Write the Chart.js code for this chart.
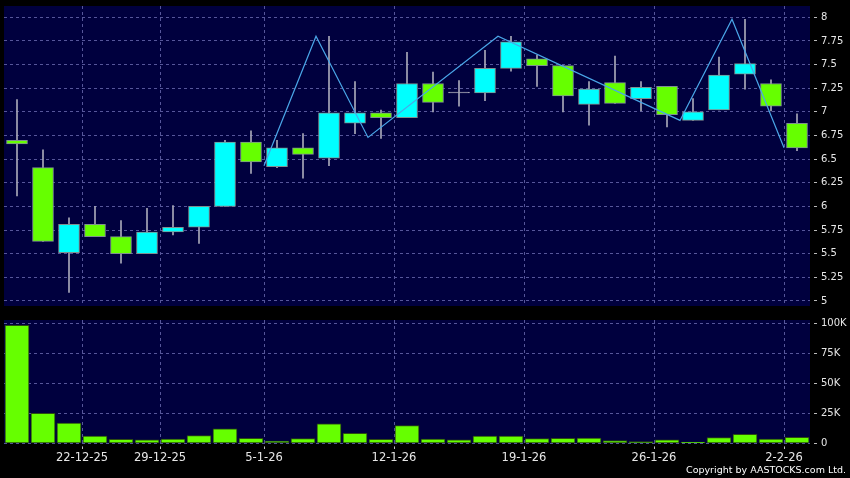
<!DOCTYPE html>
<html>
<head>
<meta charset="utf-8">
<script src="https://cdn.jsdelivr.net/npm/chart.js@4"></script>
<style>
  html, body { margin: 0; padding: 0; background: #000; }
  #wrap { position: relative; width: 850px; height: 478px; background: #000; overflow: hidden; }
  #priceBox { position: absolute; left: 0; top: 0; width: 850px; height: 310px; }
  #volBox { position: absolute; left: 0; top: 310px; width: 850px; height: 168px; }
  #copy { position: absolute; right: 4px; top: 464px; font: 9.5px "DejaVu Sans"; line-height: 11px; color: #fff; white-space: nowrap; }
</style>
</head>
<body>
<div id="wrap">
  <div id="priceBox"><canvas id="priceChart"></canvas></div>
  <div id="volBox"><canvas id="volChart"></canvas></div>
  <div id="copy">Copyright by AASTOCKS.com Ltd.</div>
</div>
<script>
// daily candles, 17-12-25 .. 2-2-26
const openP  = [6.70, 6.41, 5.51, 5.81, 5.68, 5.50, 5.73, 5.78, 6.00, 6.68, 6.42, 6.62, 6.51, 6.88, 6.99, 6.94, 7.30, 7.20, 7.20, 7.46, 7.56, 7.49, 7.08, 7.31, 7.14, 7.27, 6.91, 7.02, 7.40, 7.30, 6.88];
const closeP = [6.66, 5.63, 5.81, 5.68, 5.50, 5.73, 5.78, 6.00, 6.68, 6.47, 6.62, 6.55, 6.99, 6.99, 6.94, 7.30, 7.10, 7.20, 7.46, 7.74, 7.49, 7.17, 7.24, 7.09, 7.26, 6.97, 7.00, 7.39, 7.51, 7.06, 6.62];
const highP  = [7.13, 6.60, 5.88, 6.00, 5.85, 5.98, 6.01, 6.00, 6.70, 6.80, 6.70, 6.77, 7.80, 7.32, 7.02, 7.63, 7.42, 7.33, 7.65, 7.80, 7.60, 7.49, 7.32, 7.59, 7.32, 7.27, 7.14, 7.58, 7.98, 7.34, 6.98];
const lowP   = [6.11, 5.63, 5.09, 5.68, 5.40, 5.50, 5.70, 5.61, 6.00, 6.35, 6.41, 6.30, 6.43, 6.77, 6.72, 6.94, 7.00, 7.06, 7.12, 7.43, 7.27, 7.00, 6.86, 7.09, 7.01, 6.84, 6.91, 7.02, 7.24, 7.01, 6.59];
const volume = [98500, 25100, 16800, 6100, 3400, 2800, 3600, 6400, 12000, 4200, 1900, 3900, 16200, 8400, 3400, 14800, 3600, 3000, 6100, 6100, 3900, 4200, 4400, 2200, 1400, 2800, 1100, 4700, 7500, 3600, 5000];

// zigzag line
const zigX = [9.5, 11.5, 13.5, 18.5, 25.5, 27.5, 29.5];
const zigY = [6.43, 7.80, 6.73, 7.80, 6.91, 7.98, 6.62];

// week boundaries and labels
const weekPos = [2.5, 5.5, 9.5, 14.5, 19.5, 24.5, 29.5];
const weekLabels = ["22-12-25", "29-12-25", "5-1-26", "12-1-26", "19-1-26", "26-1-26", "2-2-26"];

const priceTicks = [5, 5.25, 5.5, 5.75, 6, 6.25, 6.5, 6.75, 7, 7.25, 7.5, 7.75, 8];
const priceTickLabels = ["5", "5.25", "5.5", "5.75", "6", "6.25", "6.5", "6.75", "7", "7.25", "7.5", "7.75", "8"];
const volTicks = [0, 25000, 50000, 75000, 100000];
const volTickLabels = ["0", "25K", "50K", "75K", "100K"];

const NAVY = "#00003e";
const GRID = "#56569a";
const TEXT = "#e6e6e6";
const UP = "#00ffff";
const DOWN = "#66ff00";

Chart.defaults.font.family = "'DejaVu Sans'";
Chart.defaults.color = TEXT;

const plotBg = {
  id: "plotBg",
  beforeDraw(chart) {
    const a = chart.chartArea;
    const ctx = chart.ctx;
    ctx.save();
    ctx.fillStyle = NAVY;
    ctx.fillRect(a.left, a.top, a.right - a.left, a.bottom - a.top);
    ctx.restore();
  }
};

function setTicks(values) {
  return function (scale) {
    scale.ticks = values.map(v => ({ value: v }));
  };
}

// fix axis box sizes so both panels line up with the reference
function fitX(h) {
  return function (scale) {
    scale.height = h;
    scale.paddingLeft = 0;
    scale.paddingRight = 0;
  };
}
function fitY(scale) {
  scale.width = 40;
  scale.paddingTop = 0;
  scale.paddingBottom = 0;
}

const candleColor = openP.map((o, i) => closeP[i] > o ? UP : (closeP[i] < o ? DOWN : "#a8a8b8"));
const bodyBorder = openP.map((o, i) => closeP[i] === o ? "#a8a8b8" : "#7f9090");

new Chart(document.getElementById("priceChart"), {
  type: "bar",
  data: {
    datasets: [
      {
        type: "line",
        data: zigX.map((x, i) => ({ x: x, y: zigY[i] })),
        borderColor: "#4aa6e8",
        borderWidth: 1.2,
        pointRadius: 0,
        order: 0
      },
      {
        data: openP.map((o, i) => ({ x: i, y: [o, closeP[i]] })),
        backgroundColor: candleColor,
        borderColor: bodyBorder,
        borderWidth: 1,
        borderSkipped: false,
        barThickness: 21,
        minBarLength: 1,
        grouped: false,
        order: 1
      },
      {
        data: lowP.map((l, i) => ({ x: i, y: [l, highP[i]] })),
        backgroundColor: "#a8a8b8",
        borderWidth: 0,
        barThickness: 1,
        grouped: false,
        order: 2
      }
    ]
  },
  options: {
    responsive: true,
    maintainAspectRatio: false,
    animation: false,
    layout: { padding: { left: 4, top: 6, right: 0, bottom: 0 } },
    plugins: { legend: { display: false }, tooltip: { enabled: false } },
    scales: {
      x: {
        type: "linear",
        offset: false,
        min: -0.5,
        max: 30.5,
        afterBuildTicks: setTicks(weekPos),
        afterFit: fitX(4),
        ticks: { display: false },
        grid: { color: GRID, drawTicks: false, offset: false },
        border: { display: false, dash: [3, 3] }
      },
      y: {
        position: "right",
        min: 4.947,
        max: 8.12,
        afterBuildTicks: setTicks(priceTicks),
        afterFit: fitY,
        ticks: {
          padding: 4,
          font: { size: 10 },
          color: TEXT,
          callback: (v) => priceTickLabels[priceTicks.indexOf(v)]
        },
        grid: { color: GRID, tickLength: 7, tickColor: "#bbbbbb", tickBorderDash: [0, 4, 3, 20] },
        border: { display: false, dash: [3, 3] }
      }
    }
  },
  plugins: [plotBg]
});

new Chart(document.getElementById("volChart"), {
  type: "bar",
  data: {
    datasets: [{
      data: volume.map((v, i) => ({ x: i, y: v })),
      backgroundColor: DOWN,
      borderColor: "#2c4c10",
      borderWidth: 1,
      borderSkipped: false,
      barThickness: 24
    }]
  },
  options: {
    responsive: true,
    maintainAspectRatio: false,
    animation: false,
    layout: { padding: { left: 4, top: 10, right: 0, bottom: 0 } },
    plugins: { legend: { display: false }, tooltip: { enabled: false } },
    scales: {
      x: {
        type: "linear",
        offset: false,
        min: -0.5,
        max: 30.5,
        afterBuildTicks: setTicks(weekPos),
        afterFit: fitX(34.7),
        ticks: {
          padding: 2,
          maxRotation: 0,
          autoSkip: false,
          font: { size: 11.5 },
          color: TEXT,
          callback: (v) => weekLabels[weekPos.indexOf(v)]
        },
        grid: { color: GRID, tickLength: 6, tickColor: "#bbbbbb", offset: false, tickBorderDash: [0, 3.4, 2.6, 20] },
        border: { display: false, dash: [3, 3] }
      },
      y: {
        position: "right",
        min: 0,
        max: 103000,
        afterBuildTicks: setTicks(volTicks),
        afterFit: fitY,
        ticks: {
          padding: 4,
          font: { size: 10 },
          color: TEXT,
          callback: (v) => volTickLabels[volTicks.indexOf(v)]
        },
        grid: { color: GRID, tickLength: 7, tickColor: "#bbbbbb", tickBorderDash: [0, 4, 3, 20] },
        border: { display: false, dash: [3, 3] }
      }
    }
  },
  plugins: [plotBg]
});
</script>
</body>
</html>
